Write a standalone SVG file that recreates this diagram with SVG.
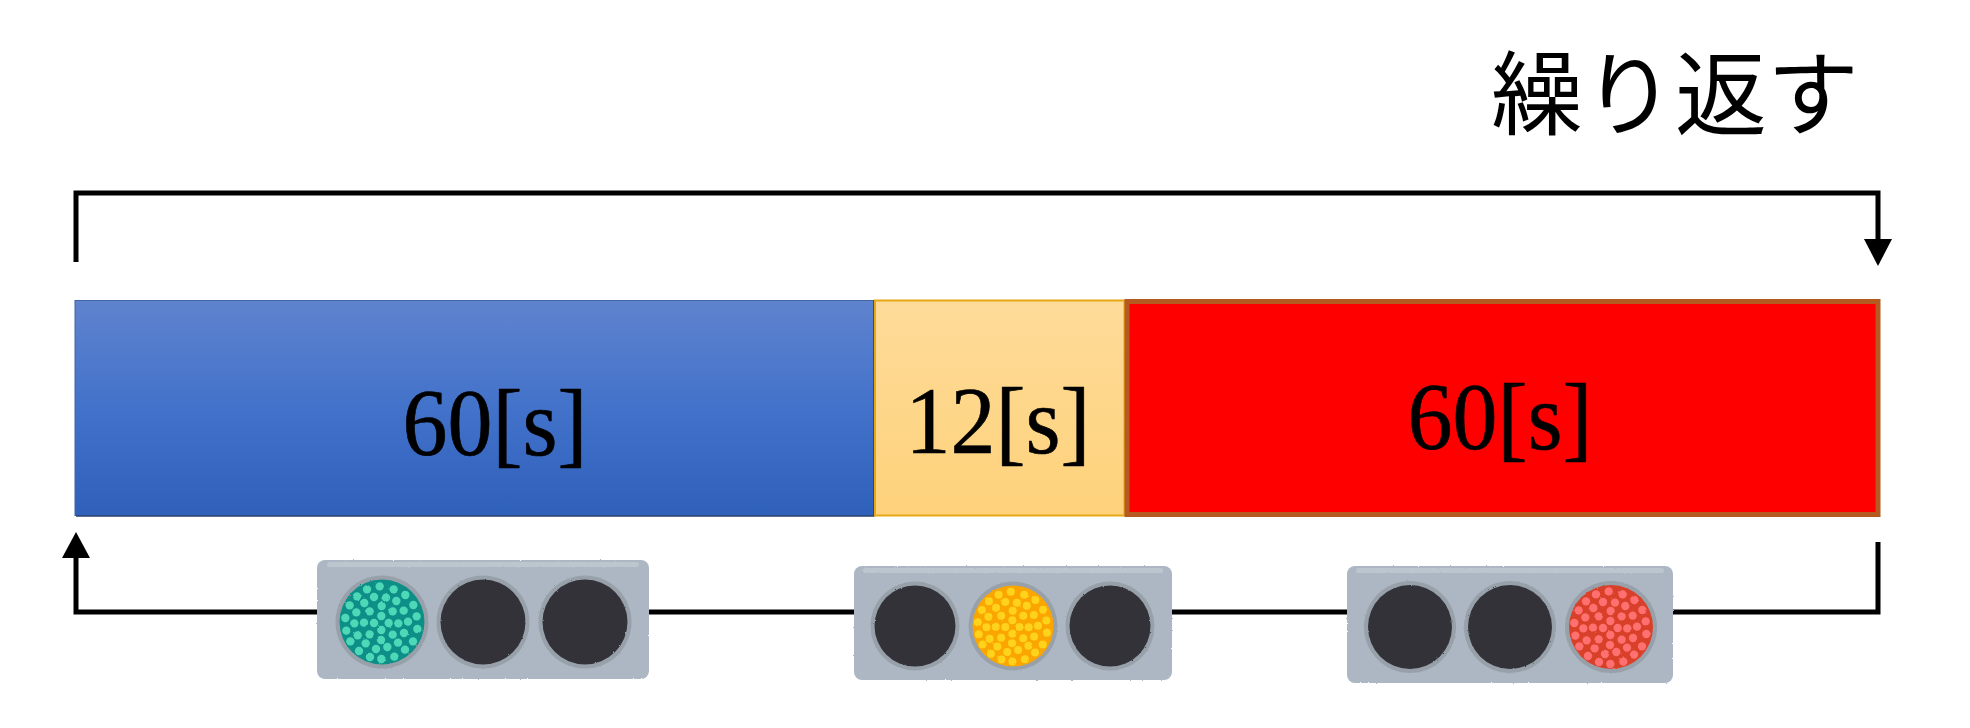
<svg xmlns="http://www.w3.org/2000/svg" xmlns:xlink="http://www.w3.org/1999/xlink" width="1970" height="728" viewBox="0 0 1970 728">
<style>
.conn{fill:none;stroke:#000;stroke-width:5}
.head{fill:#000}
.time{font-family:"Liberation Serif","Times New Roman",serif;font-size:90px;fill:#000;stroke:#000;stroke-width:.6;text-anchor:middle}
.title{font-family:"Noto Sans CJK JP","Noto Sans",sans-serif;font-size:92px;font-weight:400;fill:#000}
.body{fill:#acb7c3}
.strip{fill:#bcc6cf}
.rim{fill:#98a1aa}
.dark{fill:#303339}
.sig{filter:url(#rough)}
</style>
<defs>
<filter id="rough" x="-2%" y="-5%" width="104%" height="110%"><feTurbulence type="fractalNoise" baseFrequency=".6" numOctaves="2" seed="4" result="n"/><feDisplacementMap in="SourceGraphic" in2="n" scale="2"/></filter>
<linearGradient id="gb" x1="0" y1="0" x2="0" y2="1"><stop offset="0" stop-color="#5f83ce"/><stop offset=".5" stop-color="#4272ca"/><stop offset="1" stop-color="#2f60ba"/></linearGradient>
<linearGradient id="go" x1="0" y1="0" x2="0" y2="1"><stop offset="0" stop-color="#fedb99"/><stop offset="1" stop-color="#fed27b"/></linearGradient>
<g id="dots" transform="scale(.3333) translate(-245,-245)">
<circle cx="238" cy="138" r="12.5"/><circle cx="200" cy="147" r="12.5"/><circle cx="280" cy="147" r="12.5"/><circle cx="170" cy="168" r="12.5"/><circle cx="315" cy="164" r="12.5"/><circle cx="257" cy="172" r="12.5"/><circle cx="221" cy="170" r="12.5"/><circle cx="192" cy="188" r="12.5"/><circle cx="288" cy="182" r="12.5"/><circle cx="148" cy="195" r="12.5"/><circle cx="339" cy="194" r="12.5"/><circle cx="244" cy="197" r="12.5"/><circle cx="168" cy="216" r="12.5"/><circle cx="208" cy="213" r="12.5"/><circle cx="277" cy="213" r="12.5"/><circle cx="310" cy="211" r="12.5"/><circle cx="243" cy="227" r="12.5"/><circle cx="135" cy="233" r="12.5"/><circle cx="349" cy="228" r="12.5"/><circle cx="162" cy="249" r="12.5"/><circle cx="191" cy="247" r="12.5"/><circle cx="221" cy="248" r="12.5"/><circle cx="265" cy="248" r="12.5"/><circle cx="294" cy="249" r="12.5"/><circle cx="323" cy="244" r="12.5"/><circle cx="138" cy="271" r="12.5"/><circle cx="351" cy="266" r="12.5"/><circle cx="243" cy="269" r="12.5"/><circle cx="172" cy="285" r="12.5"/><circle cx="208" cy="282" r="12.5"/><circle cx="277" cy="283" r="12.5"/><circle cx="311" cy="278" r="12.5"/><circle cx="150" cy="303" r="12.5"/><circle cx="338" cy="303" r="12.5"/><circle cx="242" cy="299" r="12.5"/><circle cx="196" cy="309" r="12.5"/><circle cx="293" cy="307" r="12.5"/><circle cx="261" cy="320" r="12.5"/><circle cx="227" cy="326" r="12.5"/><circle cx="176" cy="332" r="12.5"/><circle cx="314" cy="328" r="12.5"/><circle cx="209" cy="350" r="12.5"/><circle cx="243" cy="356" r="12.5"/><circle cx="282" cy="349" r="12.5"/>
</g>
</defs>
<rect width="1970" height="728" fill="#fff"/>
<g id="connectors">
<path class="conn" d="M76 262V193H1878V240"/>
<polygon class="head" points="1864,239 1892,239 1878,266"/>
<path class="conn" d="M1878 542V612H76V556"/>
<polygon class="head" points="62,558 90,558 76,532"/>
</g>
<g id="title"><text class="title" x="1491" y="128" textLength="368" lengthAdjust="spacing">繰り返す</text></g>
<g id="bar-green">
<rect x="75" y="300.500" width="799" height="215" fill="url(#gb)" stroke="#41659f" stroke-width="1"/>
<path d="M76 516H874V300" fill="none" stroke="#24406f" stroke-width="1.500"/>
<text class="time" transform="translate(495,455) scale(1,1.07)">60[s]</text>
</g>
<g id="bar-yellow">
<rect x="875" y="300.500" width="249.500" height="215" fill="url(#go)" stroke="#e6a817" stroke-width="2"/>
<text class="time" transform="translate(998,453) scale(1,1.07)">12[s]</text>
</g>
<g id="bar-red">
<rect x="1127" y="301.500" width="751" height="213" fill="#f00" stroke="#b55a20" stroke-width="5"/>
<text class="time" transform="translate(1500,449) scale(1,1.07)">60[s]</text>
</g>
<g id="signal-green" class="sig">
<rect class="body" x="317" y="560" width="332" height="119" rx="8"/>
<rect class="strip" x="327" y="562" width="312" height="5" rx="2.500"/>
<circle class="rim" cx="382" cy="622" r="46.500"/><circle cx="382" cy="622" r="42.500" fill="#0f8f88"/>
<use href="#dots" transform="translate(382,622)" fill="#4ed8b8"/>
<circle class="rim" cx="483" cy="622" r="46.500"/><circle class="dark" cx="483" cy="622" r="42.500"/>
<circle class="rim" cx="585" cy="622" r="46.500"/><circle class="dark" cx="585" cy="622" r="42.500"/>
</g>
<g id="signal-yellow" class="sig">
<rect class="body" x="854" y="566" width="318" height="114" rx="8"/>
<rect class="strip" x="863" y="568" width="300" height="5" rx="2.500"/>
<circle class="rim" cx="915" cy="626" r="44.500"/><circle class="dark" cx="915" cy="626" r="40.500"/>
<circle class="rim" cx="1013" cy="626" r="44.500"/><circle cx="1013" cy="626" r="40.500" fill="#fba600"/>
<use href="#dots" transform="translate(1013,626) scale(.96)" fill="#ffd21a"/>
<circle class="rim" cx="1110" cy="626" r="44.500"/><circle class="dark" cx="1110" cy="626" r="40.500"/>
</g>
<g id="signal-red" class="sig">
<rect class="body" x="1347" y="566" width="326" height="117" rx="8"/>
<rect class="strip" x="1356" y="568" width="308" height="5" rx="2.500"/>
<circle class="rim" cx="1410" cy="627" r="46"/><circle class="dark" cx="1410" cy="627" r="42"/>
<circle class="rim" cx="1510" cy="627" r="46"/><circle class="dark" cx="1510" cy="627" r="42"/>
<circle class="rim" cx="1611" cy="627" r="46"/><circle cx="1611" cy="627" r="42" fill="#d9402a"/>
<use href="#dots" transform="translate(1611,627)" fill="#ff6f6f"/>
</g>
</svg>
